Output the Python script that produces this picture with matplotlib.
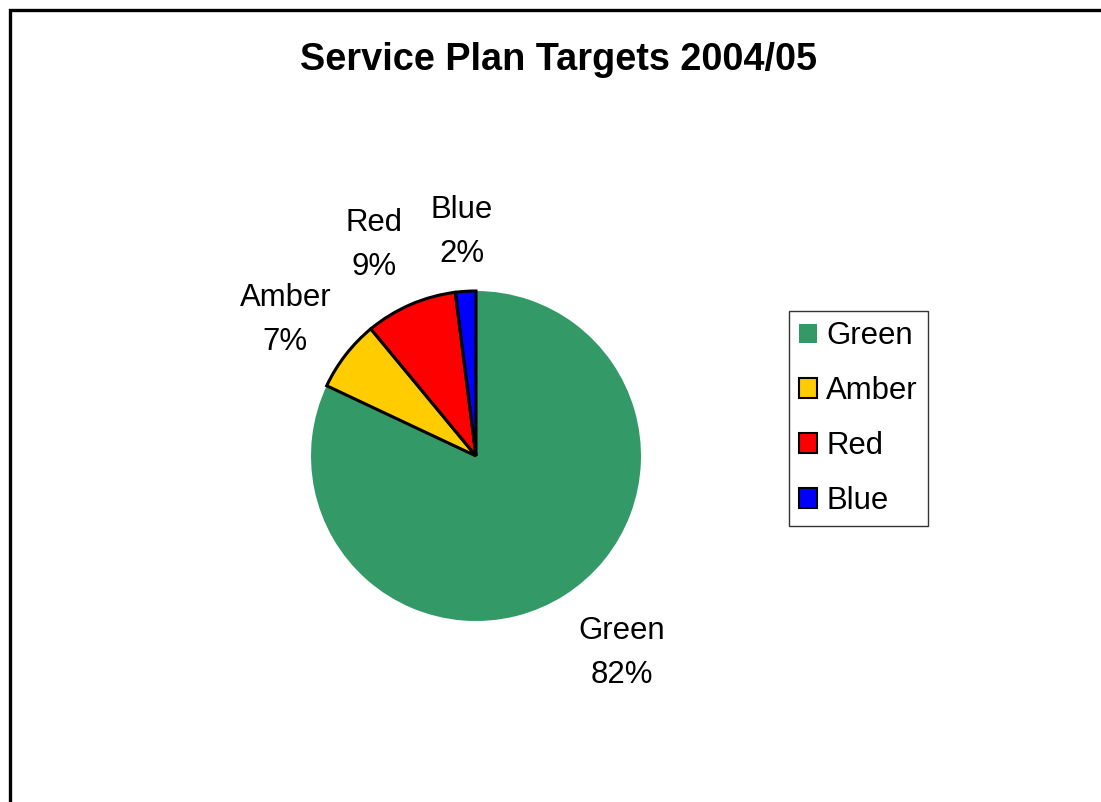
import numpy as np
import matplotlib
matplotlib.use("Agg")
import matplotlib.pyplot as plt
from matplotlib.patches import Rectangle, Patch

categories = ["Green", "Amber", "Red", "Blue"]
values = [82, 7, 9, 2]
colors = ["#339966", "#FFCC00", "#FF0000", "#0000FF"]
edges = ["none", "black", "black", "black"]
title = "Service Plan Targets 2004/05"

plt.rcParams['font.family'] = ['Liberation Sans', 'DejaVu Sans']

W, H = 1101, 802
fig = plt.figure(figsize=(W / 100, H / 100), dpi=100)

cx, cy, r = 476, 456, 165
ax = fig.add_axes([(cx - r) / W, (H - cy - r) / H, 2 * r / W, 2 * r / H])
wedges, _ = ax.pie(values, colors=colors, startangle=90, counterclock=False,
                   radius=1.0, wedgeprops=dict(linewidth=2.2))
for w, ec in zip(wedges, edges):
    w.set_edgecolor(ec)
    if ec == "none":
        w.set_linewidth(0)
        w.set_zorder(0.5)
ax.set_xlim(-1, 1)
ax.set_ylim(-1, 1)
ax.set_aspect('equal')
ax.axis('off')

total = sum(values)
dists = [1.485, 1.42, 1.42, 1.36]
ang_offsets = [4.1, 2.3, 2.4, 0.0]
for w, cat, v, d, off in zip(wedges, categories, values, dists, ang_offsets):
    ang = np.deg2rad((w.theta1 + w.theta2) / 2 + off)
    ax.text(d * np.cos(ang), d * np.sin(ang), f"{cat}\n{v / total * 100:.0f}%",
            ha='center', va='center', fontsize=22.4, linespacing=1.6, clip_on=False)

fig.text(559 / W, 1 - 60 / H, title, ha='center', va='center', fontsize=27.3,
         fontweight='bold')

handles = [Patch(facecolor=c, edgecolor=('none' if e == 'none' else 'black'),
                 linewidth=1.5) for c, e in zip(colors, edges)]
leg = fig.legend(handles, categories, loc='upper left',
                 bbox_to_anchor=(789 / W, 1 - 311 / H), fontsize=22.4,
                 frameon=True, fancybox=False, edgecolor='black',
                 handlelength=0.58, handleheight=0.58, handletextpad=0.28,
                 labelspacing=0.8, borderpad=0.33, borderaxespad=0)
leg.get_frame().set_linewidth(1.0)

fig.add_artist(Rectangle((10 / W, -0.1), 1.2, 1 - 10 / H + 0.1, fill=False,
                         edgecolor='black', linewidth=2.4,
                         transform=fig.transFigure))

fig.savefig("out.png", dpi=100)
